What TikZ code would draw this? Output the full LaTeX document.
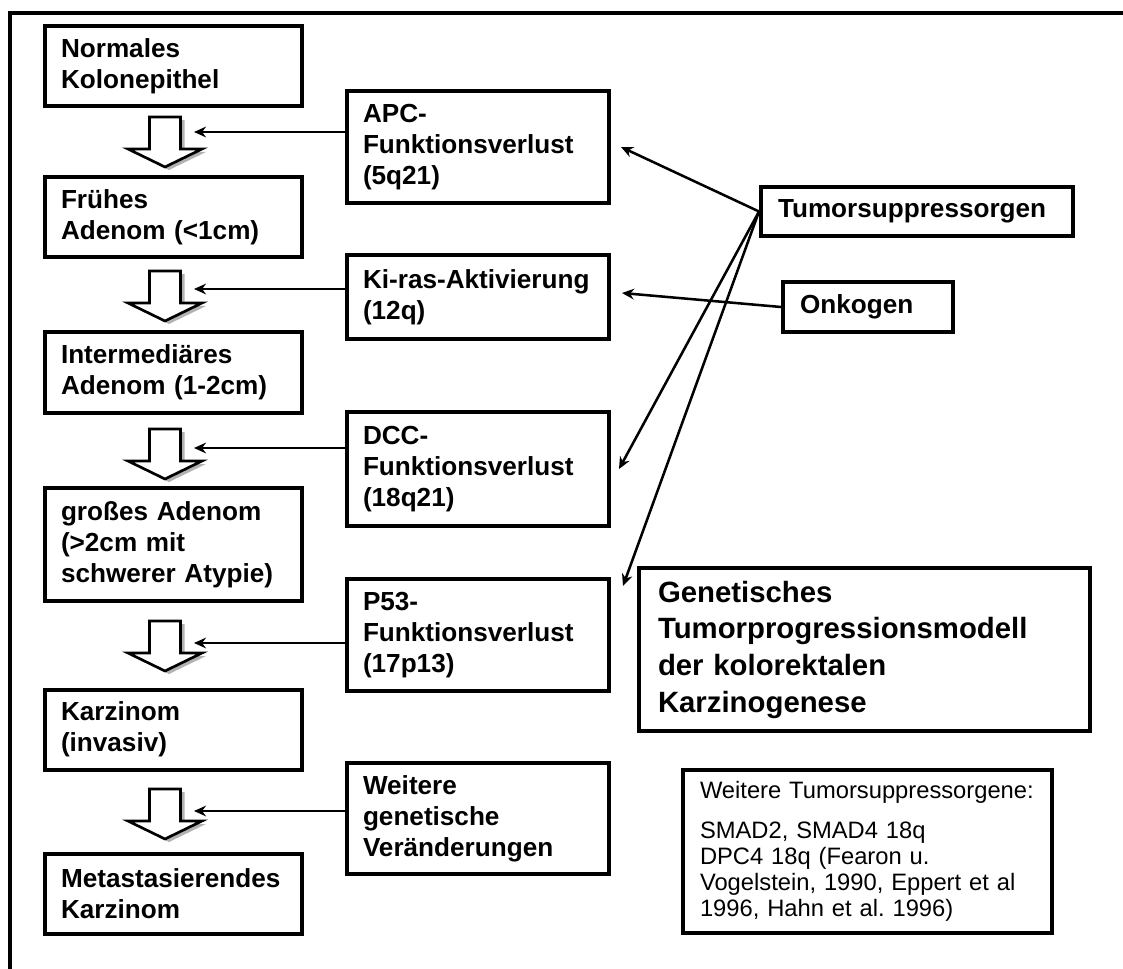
\documentclass[tikz,border=0pt]{standalone}
\usepackage{fontspec}
\setmainfont{Liberation Sans}
\usetikzlibrary{arrows.meta, calc, positioning}
\tikzset{
  box/.style    = {draw, line width=3pt, align=left, inner ysep=0pt},
  stage/.style  = {box, text width=168.75pt, inner xsep=12pt,
                   font=\bfseries\fontsize{19.6}{23.25}\selectfont},
  gene/.style   = {box, text width=172.5pt, inner xsep=12pt,
                   font=\bfseries\fontsize{19.6}{23.25}\selectfont},
  hit/.style    = {-{Stealth[length=9pt, width=8pt]}, line width=1.9pt},
  hollow/.style = {draw, fill=white, line width=2pt, line join=miter},
  lbl/.style    = {font=\frenchspacing\fontsize{17.8}{19.5}\selectfont},
}
\newcommand{\stepdown}[2]{%
  \pgfmathsetmacro{\xs}{#1}
  \pgfmathsetmacro{\ys}{#2}
  \fill[gray!60] (\xs-11.5,\ys-22) -- ++(31,0) -- ++(0,32) -- ++(21.5,0)
    -- (\xs+4,\ys+28) -- ++(-37,-18) -- ++(21.5,0) -- cycle;
  \draw[hollow] (\xs-15.5,\ys-25) -- ++(31,0) -- ++(0,32) -- ++(21.5,0)
    -- (\xs,\ys+25) -- ++(-37,-18) -- ++(21.5,0) -- cycle;
}

\begin{document}
\begin{tikzpicture}[x=0.75pt, y=-0.75pt]
  \useasboundingbox (0,0) rectangle (1123,969);
  \draw[line width=3pt] (10,995) -- (10,13) -- (1150,13);

  % stages of the progression
  \node[stage, minimum height=60pt] (s1) at (173.5,66.5) {Normales\\Kolonepithel};
  \node[stage, minimum height=60pt] (s2) at (173.5,217.5) {Frühes\\Adenom (<1cm)};
  \node[stage, minimum height=60pt] (s3) at (173.5,372.5) {Intermediäres\\Adenom (1-2cm)};
  \node[stage, minimum height=84.75pt] (s4) at (173.5,544.5) {großes Adenom\\(>2cm mit\\schwerer Atypie)};
  \node[stage, minimum height=60pt] (s5) at (173.5,729.5) {Karzinom\\(invasiv)};
  \node[stage, minimum height=60pt] (s6) at (173.5,893.5) {Metastasierendes\\Karzinom};

  \foreach \y/\h [count=\i] in {142/132, 296/289, 454/448, 646/643, 814/811} {
    \stepdown{165}{\y}
    \coordinate (in\i) at (194,\h);
  }

  % genetic events
  \node[gene, minimum height=84pt] (apc) at (478,147) {APC-\\Funktionsverlust\\(5q21)};
  \node[gene, minimum height=63pt] (kiras) at (478,297) {Ki-ras-Aktivierung\\(12q)};
  \node[gene, minimum height=85pt] (dcc) at (478,469) {DCC-\\Funktionsverlust\\(18q21)};
  \node[gene, minimum height=84pt] (p53) at (478,635) {P53-\\Funktionsverlust\\(17p13)};
  \node[gene, minimum height=83pt] (more) at (478,818.5) {Weitere\\genetische\\Veränderungen};

  \foreach \g [count=\i] in {apc, kiras, dcc, p53, more}
    \draw[hit] (\g.west |- in\i) -- (in\i);

  % classes of genes
  \node[stage, text width=208.5pt, inner xsep=12.75pt, minimum height=36.75pt]
    (tsg) at (917,211.5) {Tumorsuppressorgen};
  \node[stage, text width=102pt, inner xsep=12.75pt, minimum height=37.5pt]
    (onk) at (868,307) {Onkogen};

  \draw[hit] (tsg.west) -- ($(apc.east)+(10,0)$);
  \draw[hit] (tsg.west) -- ($(dcc.east)+(8,0)$);
  \draw[hit] (tsg.west) -- ($(p53.north east)+(12,9)$);
  \draw[hit] (onk.west) -- ($(kiras.east)+(11,-4)$);

  \node[box, text width=309.75pt, inner xsep=14.25pt, minimum height=122.25pt,
        font=\bfseries\fontsize{22}{27.5}\selectfont]
    (model) at (864.5,649.5) {Genetisches\\Tumorprogressionsmodell\\der kolorektalen\\Karzinogenese};
  \node[box, lbl, text width=251.25pt, inner xsep=12.75pt, minimum height=122.25pt]
    (extra) at (867.5,851.5) {Weitere Tumorsuppressorgene:\\[11pt]SMAD2, SMAD4 18q\\DPC4 18q (Fearon u.\\Vogelstein, 1990, Eppert et al\\1996, Hahn et al. 1996)};
\end{tikzpicture}
\end{document}
